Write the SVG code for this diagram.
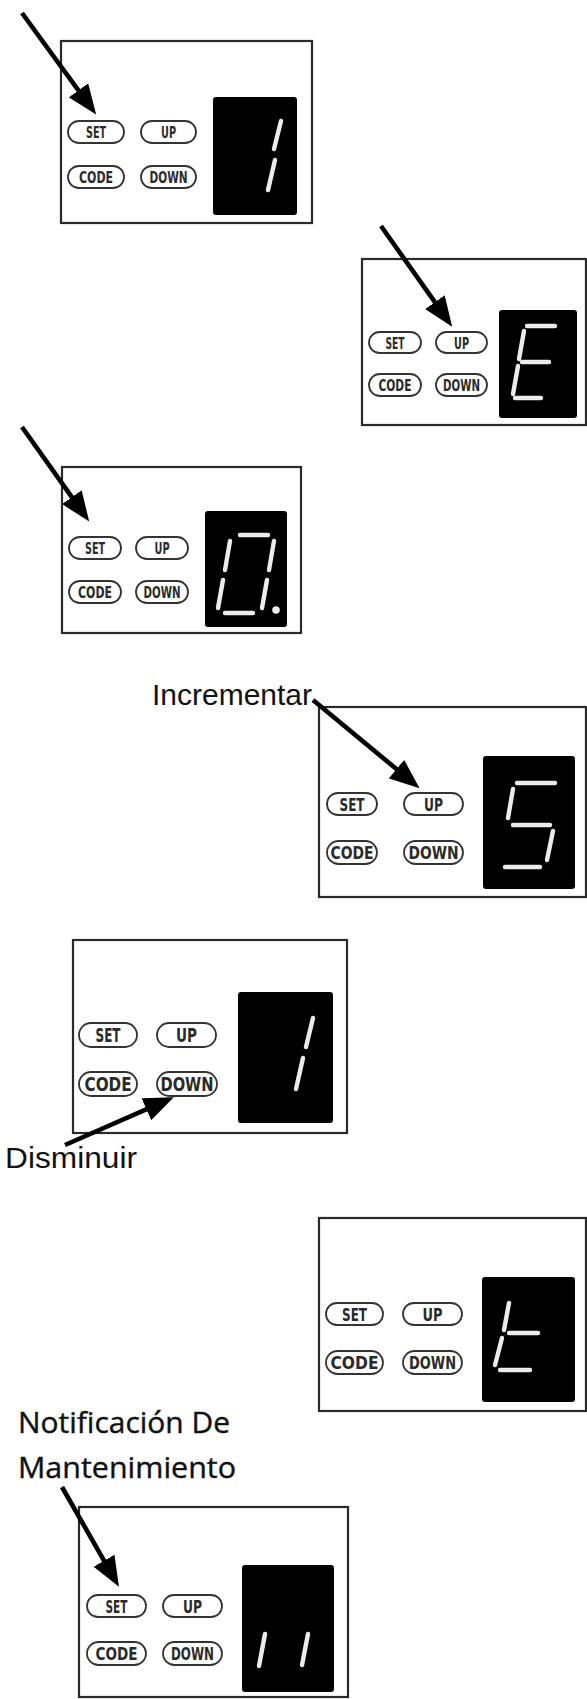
<svg xmlns="http://www.w3.org/2000/svg" width="587" height="1699" viewBox="0 0 587 1699">
<style>
.box{fill:#fff;stroke:#2a2a2a;stroke-width:2.2}
.disp{fill:#000}
.seg{stroke:#ececec;stroke-width:4.4;stroke-linecap:round;fill:none}
.pill{fill:#fff;stroke:#333;stroke-width:1.8}
.bt{font-family:'DejaVu Sans Condensed','DejaVu Sans',sans-serif;font-weight:600;fill:#2a2a2a;text-anchor:middle}
.lbl{font-family:'Liberation Sans',Arial,sans-serif;fill:#111}
.lbl2{font-family:'Open Sans','Noto Sans',sans-serif;fill:#111;stroke:#111;stroke-width:0.4}
.arr{stroke:#000;stroke-width:4.6;fill:none;marker-end:url(#ah)}
</style>
<defs>
<marker id="ah" markerUnits="userSpaceOnUse" markerWidth="30" markerHeight="24" refX="16" refY="12" orient="auto" viewBox="0 0 30 24">
<path d="M0,0 L30,12 L0,24 z" fill="#000"/>
</marker>
</defs>
<rect width="587" height="1699" fill="#fff"/>

<g id="panel1">
<rect class="box" x="61" y="41" width="251" height="182"/>
<rect class="disp" x="213" y="97" width="84" height="118" rx="3"/>
<line class="seg" x1="281" y1="121" x2="274" y2="149"/>
<line class="seg" x1="275" y1="160" x2="268" y2="190"/>
<rect class="pill" x="68" y="121" width="56" height="22" rx="11"/>
<rect class="pill" x="141" y="121" width="55" height="22" rx="11"/>
<rect class="pill" x="68" y="166" width="56" height="22" rx="11"/>
<rect class="pill" x="141" y="166" width="55" height="22" rx="11"/>
<text class="bt" x="96" y="138" font-size="16" textLength="20" lengthAdjust="spacingAndGlyphs">SET</text>
<text class="bt" x="168.5" y="138" font-size="16" textLength="15" lengthAdjust="spacingAndGlyphs">UP</text>
<text class="bt" x="96" y="183" font-size="16" textLength="34" lengthAdjust="spacingAndGlyphs">CODE</text>
<text class="bt" x="168.5" y="183" font-size="16" textLength="38" lengthAdjust="spacingAndGlyphs">DOWN</text>
</g>

<g id="panel2">
<rect class="box" x="362" y="259" width="224" height="166"/>
<rect class="disp" x="499" y="310" width="78" height="108" rx="3"/>
<line class="seg" x1="527" y1="326" x2="555" y2="326"/>
<line class="seg" x1="522" y1="362" x2="549" y2="362"/>
<line class="seg" x1="515" y1="398" x2="541" y2="398"/>
<line class="seg" x1="524" y1="331" x2="519" y2="359"/>
<line class="seg" x1="518" y1="366" x2="513" y2="394"/>
<rect class="pill" x="369" y="332" width="52" height="21" rx="10.5"/>
<rect class="pill" x="436" y="332" width="51" height="21" rx="10.5"/>
<rect class="pill" x="369" y="374" width="52" height="22" rx="11"/>
<rect class="pill" x="436" y="374" width="51" height="22" rx="11"/>
<text class="bt" x="395" y="348.5" font-size="15.5" textLength="19" lengthAdjust="spacingAndGlyphs">SET</text>
<text class="bt" x="461.5" y="348.5" font-size="15.5" textLength="15" lengthAdjust="spacingAndGlyphs">UP</text>
<text class="bt" x="395" y="391" font-size="15.5" textLength="33" lengthAdjust="spacingAndGlyphs">CODE</text>
<text class="bt" x="461.5" y="391" font-size="15.5" textLength="37" lengthAdjust="spacingAndGlyphs">DOWN</text>
</g>

<g id="panel3">
<rect class="box" x="62" y="467" width="239" height="166"/>
<rect class="disp" x="205" y="511" width="82" height="116" rx="3"/>
<line class="seg" x1="240" y1="535" x2="268" y2="535"/>
<line class="seg" x1="230" y1="541" x2="225" y2="570"/>
<line class="seg" x1="274" y1="541" x2="269" y2="570"/>
<line class="seg" x1="223" y1="580" x2="218" y2="608"/>
<line class="seg" x1="267" y1="580" x2="262" y2="608"/>
<line class="seg" x1="225" y1="613" x2="253" y2="613"/>
<circle cx="276" cy="610" r="3.8" fill="#ececec"/>
<rect class="pill" x="69" y="537" width="52" height="22" rx="11"/>
<rect class="pill" x="136" y="537" width="52" height="22" rx="11"/>
<rect class="pill" x="69" y="581" width="52" height="22" rx="11"/>
<rect class="pill" x="136" y="581" width="52" height="22" rx="11"/>
<text class="bt" x="95" y="554" font-size="16" textLength="20" lengthAdjust="spacingAndGlyphs">SET</text>
<text class="bt" x="162" y="554" font-size="16" textLength="15" lengthAdjust="spacingAndGlyphs">UP</text>
<text class="bt" x="95" y="598" font-size="16" textLength="34" lengthAdjust="spacingAndGlyphs">CODE</text>
<text class="bt" x="162" y="598" font-size="16" textLength="37" lengthAdjust="spacingAndGlyphs">DOWN</text>
</g>

<g id="panel4">
<text class="lbl" x="152" y="705" font-size="29" textLength="160" lengthAdjust="spacingAndGlyphs">Incrementar</text>
<rect class="box" x="319" y="707" width="267" height="190"/>
<rect class="disp" x="483" y="756" width="92" height="133" rx="3"/>
<line class="seg" x1="517" y1="783" x2="555" y2="783"/>
<line class="seg" x1="513" y1="789" x2="508" y2="818"/>
<line class="seg" x1="513" y1="825" x2="550" y2="825"/>
<line class="seg" x1="553" y1="831" x2="547" y2="860"/>
<line class="seg" x1="505" y1="867" x2="540" y2="867"/>
<rect class="pill" x="327" y="793" width="50" height="22" rx="11"/>
<rect class="pill" x="404" y="793" width="59" height="22" rx="11"/>
<rect class="pill" x="327" y="841" width="50" height="23" rx="11.5"/>
<rect class="pill" x="404" y="841" width="59" height="23" rx="11.5"/>
<text class="bt" x="352" y="810.5" font-size="18.5" textLength="25" lengthAdjust="spacingAndGlyphs">SET</text>
<text class="bt" x="433.5" y="810.5" font-size="18.5" textLength="19" lengthAdjust="spacingAndGlyphs">UP</text>
<text class="bt" x="352" y="859" font-size="18.5" textLength="43" lengthAdjust="spacingAndGlyphs">CODE</text>
<text class="bt" x="433.5" y="859" font-size="18.5" textLength="50" lengthAdjust="spacingAndGlyphs">DOWN</text>
</g>

<g id="panel5">
<rect class="box" x="73" y="940" width="274" height="193"/>
<rect class="disp" x="238" y="992" width="95" height="131" rx="3"/>
<line class="seg" x1="313" y1="1018" x2="306" y2="1047"/>
<line class="seg" x1="303" y1="1058" x2="296" y2="1089"/>
<rect class="pill" x="79" y="1023" width="58" height="24" rx="12"/>
<rect class="pill" x="157" y="1023" width="59" height="24" rx="12"/>
<rect class="pill" x="79" y="1072" width="58" height="24" rx="12"/>
<rect class="pill" x="157" y="1072" width="60" height="24" rx="12"/>
<text class="bt" x="108" y="1042" font-size="19" textLength="25" lengthAdjust="spacingAndGlyphs">SET</text>
<text class="bt" x="186.5" y="1042" font-size="19" textLength="21" lengthAdjust="spacingAndGlyphs">UP</text>
<text class="bt" x="108" y="1091" font-size="19" textLength="47" lengthAdjust="spacingAndGlyphs">CODE</text>
<text class="bt" x="187" y="1091" font-size="19" textLength="53" lengthAdjust="spacingAndGlyphs">DOWN</text>
<text class="lbl" x="5" y="1168" font-size="30" textLength="132" lengthAdjust="spacingAndGlyphs">Disminuir</text>
</g>

<g id="panel6">
<rect class="box" x="319" y="1218" width="267" height="193"/>
<rect class="disp" x="482" y="1277" width="93" height="125" rx="3"/>
<line class="seg" x1="509" y1="1303" x2="504" y2="1330"/>
<line class="seg" x1="509" y1="1333" x2="538" y2="1333"/>
<line class="seg" x1="502" y1="1338" x2="495" y2="1365"/>
<line class="seg" x1="500" y1="1370" x2="530" y2="1370"/>
<rect class="pill" x="326" y="1303" width="57" height="22" rx="11"/>
<rect class="pill" x="403" y="1303" width="59" height="22" rx="11"/>
<rect class="pill" x="326" y="1351" width="57" height="23" rx="11.5"/>
<rect class="pill" x="403" y="1351" width="59" height="23" rx="11.5"/>
<text class="bt" x="354.5" y="1320.5" font-size="18.5" textLength="25" lengthAdjust="spacingAndGlyphs">SET</text>
<text class="bt" x="432.5" y="1320.5" font-size="18.5" textLength="20" lengthAdjust="spacingAndGlyphs">UP</text>
<text class="bt" x="354.5" y="1369" font-size="18.5" textLength="48" lengthAdjust="spacingAndGlyphs">CODE</text>
<text class="bt" x="432.5" y="1369" font-size="18.5" textLength="47" lengthAdjust="spacingAndGlyphs">DOWN</text>
</g>

<g id="panel7">
<text class="lbl2" x="18" y="1433" font-size="29.5" textLength="212" lengthAdjust="spacingAndGlyphs">Notificación De</text>
<text class="lbl2" x="18" y="1478" font-size="29.5" textLength="218" lengthAdjust="spacingAndGlyphs">Mantenimiento</text>
<rect class="box" x="79" y="1507" width="269" height="190"/>
<rect class="disp" x="242" y="1565" width="92" height="127" rx="3"/>
<line class="seg" x1="265" y1="1634" x2="259" y2="1666"/>
<line class="seg" x1="308" y1="1634" x2="302" y2="1665"/>
<rect class="pill" x="87" y="1595" width="59" height="22" rx="11"/>
<rect class="pill" x="163" y="1595" width="59" height="22" rx="11"/>
<rect class="pill" x="87" y="1642" width="59" height="23" rx="11.5"/>
<rect class="pill" x="163" y="1642" width="59" height="23" rx="11.5"/>
<text class="bt" x="116.5" y="1612.5" font-size="17" textLength="22" lengthAdjust="spacingAndGlyphs">SET</text>
<text class="bt" x="192.5" y="1612.5" font-size="17" textLength="19" lengthAdjust="spacingAndGlyphs">UP</text>
<text class="bt" x="116.5" y="1660" font-size="17" textLength="42" lengthAdjust="spacingAndGlyphs">CODE</text>
<text class="bt" x="192.5" y="1660" font-size="17" textLength="43" lengthAdjust="spacingAndGlyphs">DOWN</text>
</g>

<g id="connectors">
<line class="arr" x1="22" y1="13" x2="87.9" y2="103.3"/>
<line class="arr" x1="381" y1="226" x2="444.1" y2="315.2"/>
<line class="arr" x1="22" y1="427" x2="81.1" y2="510.2"/>
<line class="arr" x1="313" y1="700" x2="408.8" y2="779.3"/>
<line class="arr" x1="65" y1="1145" x2="161" y2="1102.8"/>
<line class="arr" x1="62" y1="1487" x2="112" y2="1574.6"/>
</g>
</svg>
